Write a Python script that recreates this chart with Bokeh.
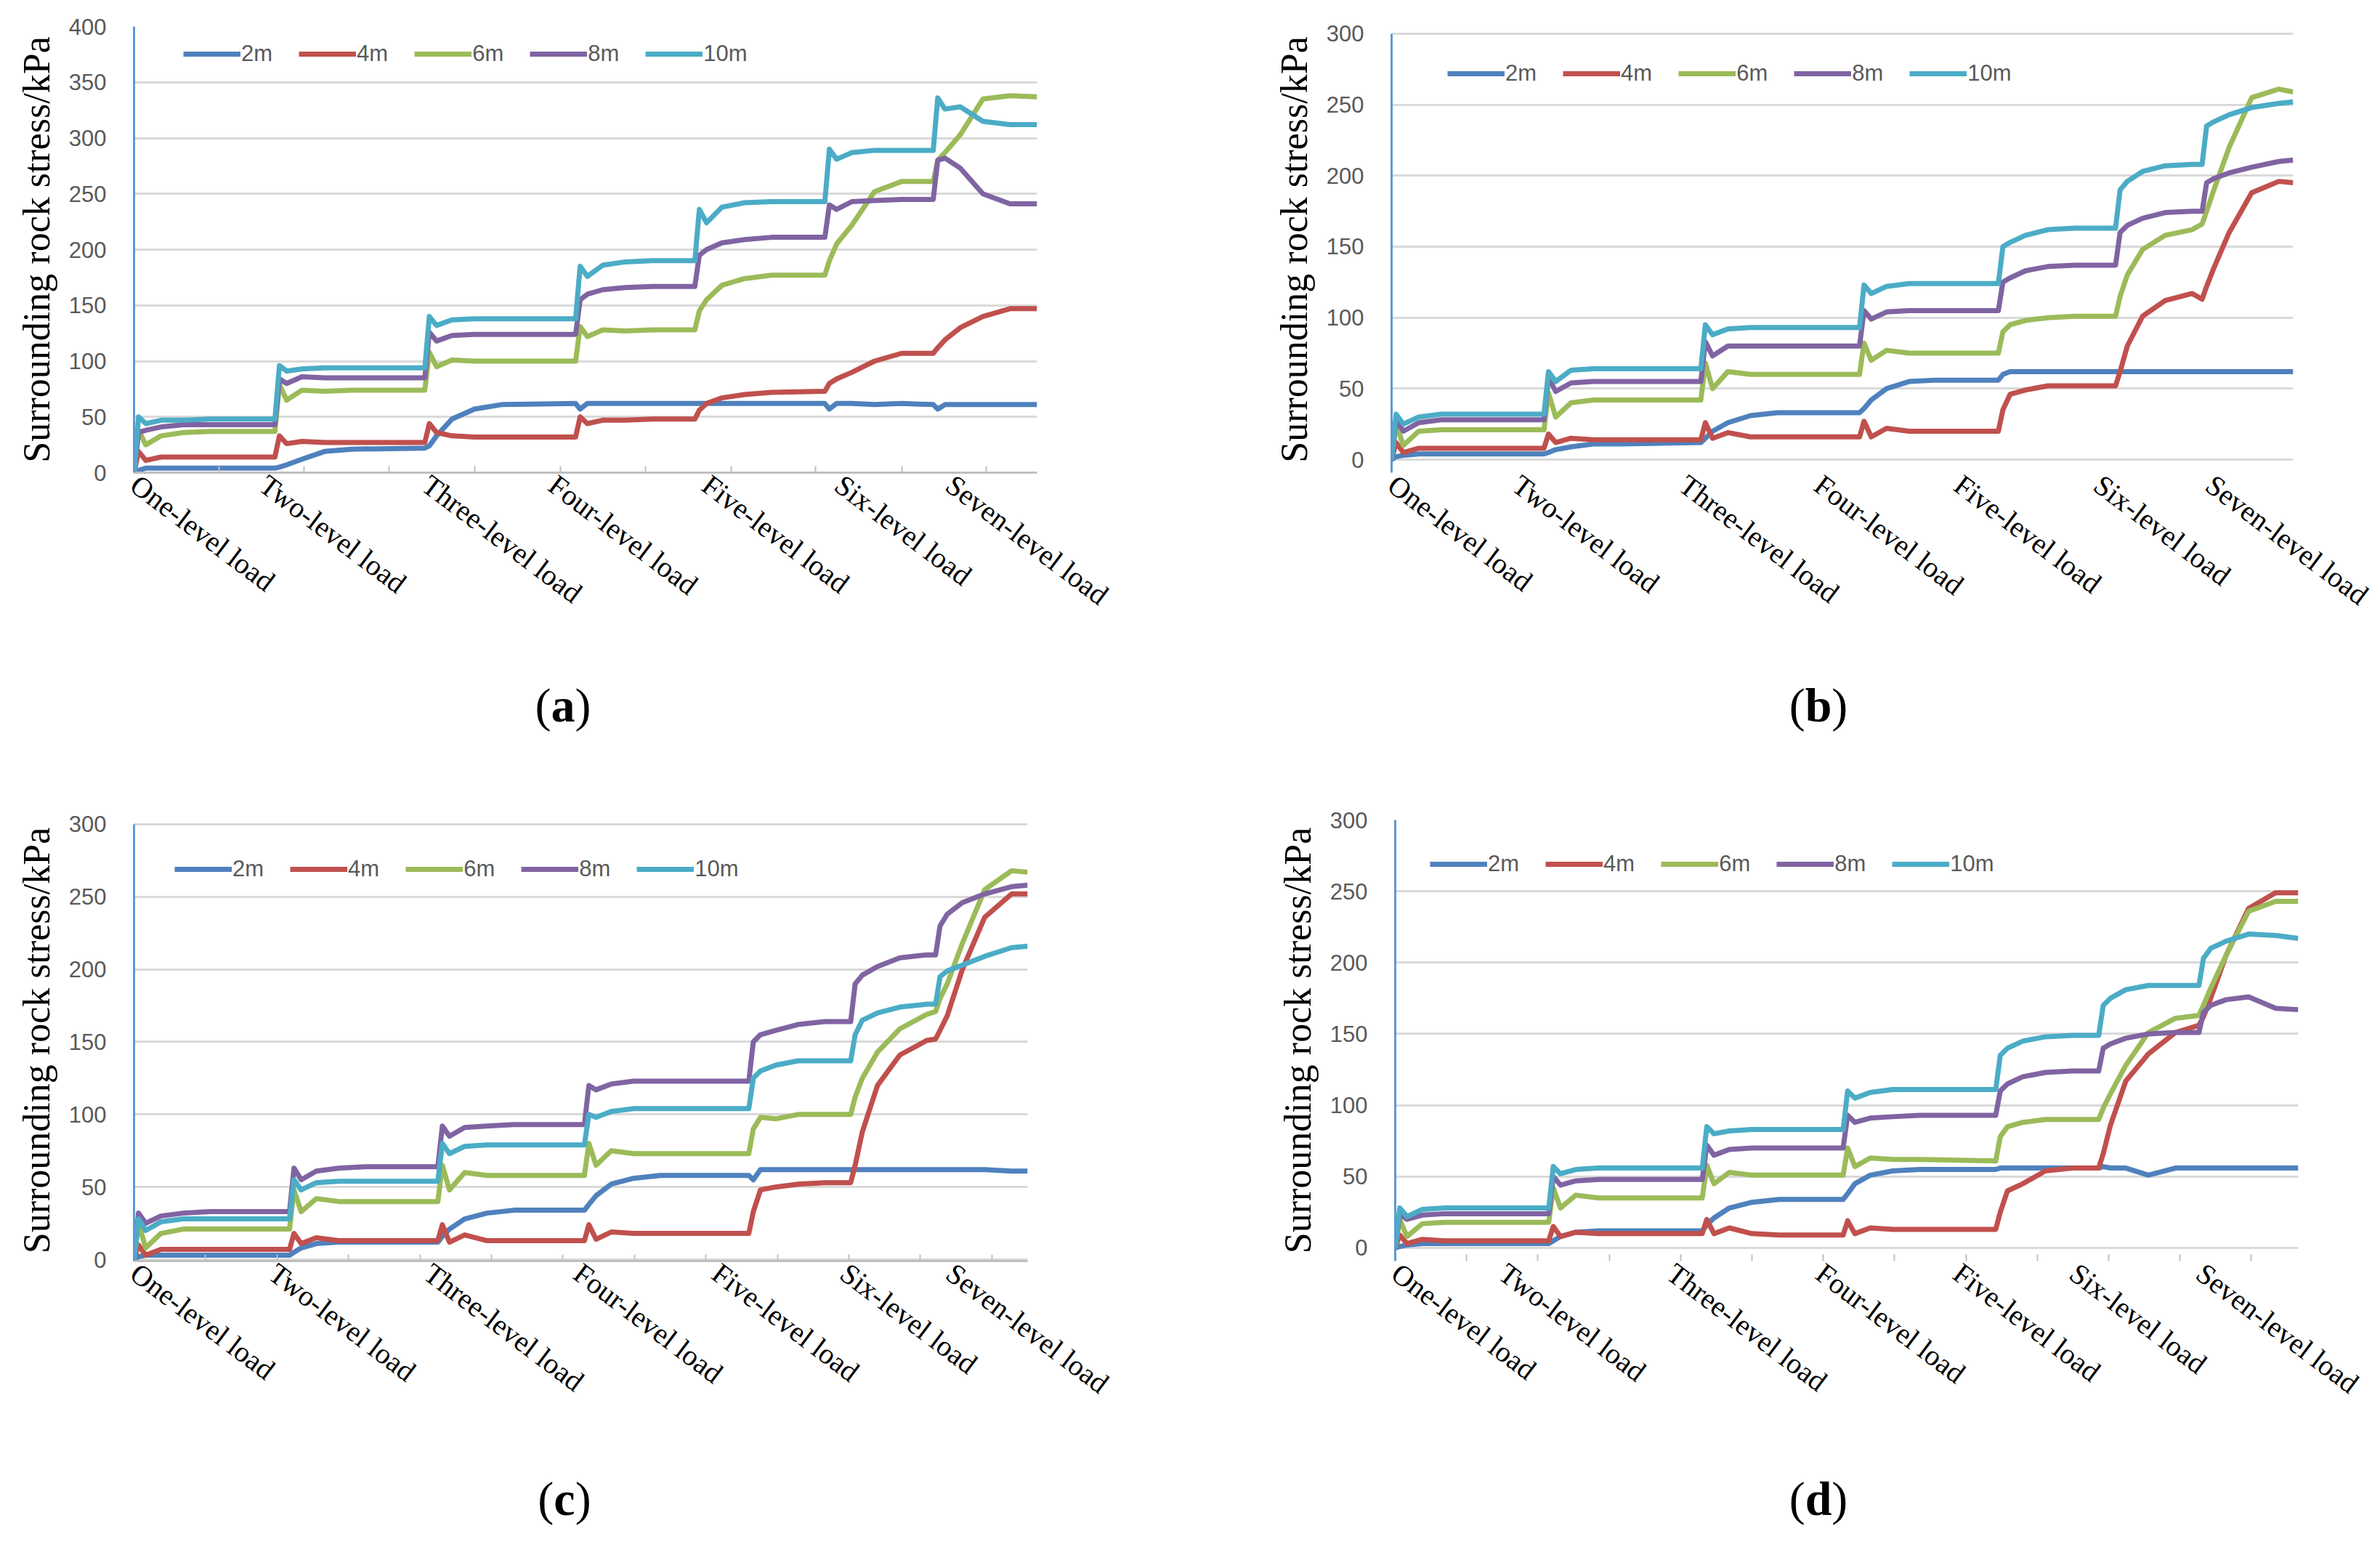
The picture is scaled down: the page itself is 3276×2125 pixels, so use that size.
import math
from bokeh.plotting import figure
from bokeh.models import Range1d, FixedTicker, SingleIntervalTicker, Legend, LegendItem, Div
from bokeh.layouts import row, column
from bokeh.embed import file_html
from bokeh.resources import INLINE

LOADS = ["One-level load", "Two-level load", "Three-level load", "Four-level load",
         "Five-level load", "Six-level load", "Seven-level load"]
DEPTHS = ["2m", "4m", "6m", "8m", "10m"]
COLORS = ["#4F81BD", "#C0504D", "#9BBB59", "#8064A2", "#4BACC6"]

# ---------------- panel (a) ----------------
X_A = [0, 0.5, 1.3, 3, 5.5, 8.5,
       15.6, 16.1, 16.9, 18.6, 21.1, 24.1,
       32.2, 32.7, 33.5, 35.2, 37.7, 40.7,
       48.9, 49.4, 50.2, 51.9, 54.4, 57.4,
       62.1, 62.6, 63.4, 65.1, 67.6, 70.6,
       76.5, 77.0, 77.8, 79.5, 82.0, 85.0,
       88.5, 89.0, 89.8, 91.5, 94.0, 97.0,
       100]
A_2m = [0, 2, 4, 4, 4, 4,
        4, 5, 7, 12, 19, 21,
        22, 24, 33, 48, 57, 61,
        62, 57, 62, 62, 62, 62,
        62, 62, 62, 62, 62, 62,
        62, 57, 62, 62, 61, 62,
        61, 57, 61, 61, 61, 61,
        61]
A_4m = [0, 19, 11, 14, 14, 14,
        14, 33, 26, 28, 27, 27,
        27, 44, 36, 33, 32, 32,
        32, 50, 44, 47, 47, 48,
        48, 56, 62, 67, 70, 72,
        73, 80, 84, 90, 100, 107,
        107, 112, 119, 130, 140, 147,
        147]
A_6m = [0, 38, 25, 33, 36, 37,
        37, 79, 65, 74, 73, 74,
        74, 108, 95, 101, 100, 100,
        100, 131, 122, 128, 127, 128,
        128, 145, 155, 168, 174, 177,
        177, 190, 205, 222, 252, 261,
        261, 280, 287, 303, 335, 338,
        337]
A_8m = [0, 36, 38, 41, 43, 43,
        43, 84, 80, 86, 85, 85,
        85, 126, 118, 123, 124, 124,
        124, 155, 160, 164, 166, 167,
        167, 195, 200, 206, 209, 211,
        211, 240, 236, 243, 244, 245,
        245, 280, 282, 273, 250, 241,
        241]
A_10m = [0, 50, 44, 47, 47, 48,
         48, 96, 91, 93, 94, 94,
         94, 140, 132, 137, 138, 138,
         138, 185, 176, 186, 189, 190,
         190, 236, 224, 238, 242, 243,
         243, 290, 281, 287, 289, 289,
         289, 336, 326, 328, 315, 312,
         312]
LBL_A = [0, 14.3, 32.3, 46.3, 63.3, 78.0, 90.3]

# ---------------- panel (b) ----------------
X_B = [0, 0.5, 1.3, 3, 5.5, 8.5,
       16.9, 17.4, 18.2, 19.9, 22.4, 25.4,
       34.3, 34.8, 35.6, 37.3, 39.8, 42.8,
       51.9, 52.4, 53.2, 54.9, 57.4, 60.4,
       67.3, 67.8, 68.6, 70.3, 72.8, 75.8,
       80.3, 80.8, 81.6, 83.3, 85.8, 88.8,
       89.9, 90.4, 91.2, 92.9, 95.4, 98.4,
       100]
B_2m = [0, 2, 3, 4, 4, 4,
        4, 5, 7, 9, 11, 11,
        12, 15, 20, 26, 31, 33,
        33, 36, 42, 50, 55, 56,
        56, 60, 62, 62, 62, 62,
        62, 62, 62, 62, 62, 62,
        62, 62, 62, 62, 62, 62,
        62]
B_4m = [0, 12, 5, 8, 8, 8,
        8, 18, 12, 15, 14, 14,
        14, 26, 15, 19, 16, 16,
        16, 27, 16, 22, 20, 20,
        20, 35, 46, 49, 52, 52,
        52, 62, 80, 101, 112, 117,
        113, 122, 135, 160, 188, 196,
        195]
B_6m = [0, 25, 10, 20, 21, 21,
        21, 47, 30, 40, 42, 42,
        42, 68, 50, 62, 60, 60,
        60, 82, 70, 77, 75, 75,
        75, 90, 95, 98, 100, 101,
        101, 115, 130, 148, 158, 162,
        166, 175, 190, 220, 255, 261,
        259]
B_8m = [0, 28, 20, 26, 28, 28,
        28, 58, 48, 54, 55, 55,
        55, 83, 73, 80, 80, 80,
        80, 105, 99, 104, 105, 105,
        105, 125, 128, 133, 136, 137,
        137, 160, 165, 170, 174, 175,
        175, 195, 198, 202, 206, 210,
        211]
B_10m = [0, 32, 25, 30, 32, 32,
         32, 62, 55, 63, 64, 64,
         64, 95, 88, 92, 93, 93,
         93, 123, 117, 122, 124, 124,
         124, 150, 153, 158, 162, 163,
         163, 190, 196, 203, 207, 208,
         208, 235, 238, 243, 248, 251,
         252]
LBL_B = [0, 13.8, 32.3, 47.3, 62.8, 78.3, 90.7]

# ---------------- panel (c) ----------------
X_C = [0, 0.5, 1.3, 3, 5.5, 8.5,
       17.4, 17.9, 18.7, 20.4, 22.9, 25.9,
       34.0, 34.5, 35.3, 37.0, 39.5, 42.5,
       50.4, 50.9, 51.7, 53.4, 55.9, 58.9,
       68.8, 69.3, 70.1, 71.8, 74.3, 77.3,
       80.2, 80.7, 81.5, 83.2, 85.7, 88.7,
       89.7, 90.2, 91.0, 92.7, 95.2, 98.2,
       100]
C_2m = [0, 2, 3, 3, 3, 3,
        3, 5, 8, 11, 12, 12,
        12, 16, 21, 28, 32, 34,
        34, 38, 44, 52, 56, 58,
        58, 55, 62, 62, 62, 62,
        62, 62, 62, 62, 62, 62,
        62, 62, 62, 62, 62, 61,
        61]
C_4m = [0, 10, 3, 7, 7, 7,
        7, 18, 11, 15, 13, 13,
        13, 24, 12, 17, 13, 13,
        13, 24, 14, 19, 18, 18,
        18, 33, 48, 50, 52, 53,
        53, 65, 88, 120, 141, 151,
        152, 158, 168, 200, 236, 252,
        252]
C_6m = [0, 25, 8, 18, 21, 21,
        21, 48, 33, 42, 40, 40,
        40, 65, 48, 60, 58, 58,
        58, 80, 65, 75, 73, 73,
        73, 90, 98, 97, 100, 100,
        100, 112, 125, 143, 159, 169,
        171, 180, 190, 218, 255, 268,
        267]
C_8m = [0, 32, 25, 30, 32, 33,
        33, 63, 55, 61, 63, 64,
        64, 92, 85, 91, 92, 93,
        93, 120, 117, 121, 123, 123,
        123, 150, 155, 158, 162, 164,
        164, 190, 196, 202, 208, 210,
        210, 230, 238, 246, 252, 257,
        258]
C_10m = [0, 28, 20, 26, 28, 28,
         28, 55, 48, 53, 54, 54,
         54, 80, 73, 78, 79, 79,
         79, 100, 98, 102, 104, 104,
         104, 125, 130, 134, 137, 137,
         137, 155, 165, 170, 174, 176,
         176, 195, 199, 203, 209, 215,
         216]
LBL_C = [0, 15.5, 32.85, 49.6, 65.1, 79.45, 91.3]

# ---------------- panel (d) ----------------
X_D = [0, 0.5, 1.3, 3, 5.5, 8.5,
       17.0, 17.5, 18.3, 20.0, 22.5, 25.5,
       34.0, 34.5, 35.3, 37.0, 39.5, 42.5,
       49.6, 50.1, 50.9, 52.6, 55.1, 58.1,
       66.5, 67.0, 67.8, 69.5, 72.0, 75.0,
       77.9, 78.4, 79.2, 80.9, 83.4, 86.4,
       89.0, 89.5, 90.3, 92.0, 94.5, 97.5,
       100]
D_2m = [0, 1, 2, 3, 3, 3,
        3, 5, 8, 11, 12, 12,
        12, 16, 21, 28, 32, 34,
        34, 38, 45, 51, 54, 55,
        55, 56, 56, 56, 56, 56,
        56, 57, 56, 56, 51, 56,
        56, 56, 56, 56, 56, 56,
        56]
D_4m = [0, 9, 3, 6, 5, 5,
        5, 15, 8, 11, 10, 10,
        10, 20, 10, 14, 10, 9,
        9, 19, 10, 14, 13, 13,
        13, 25, 40, 45, 54, 56,
        56, 66, 86, 117, 136, 151,
        156, 162, 175, 205, 238, 249,
        249]
D_6m = [0, 20, 8, 17, 18, 18,
        18, 42, 28, 37, 35, 35,
        35, 58, 45, 53, 51, 51,
        51, 70, 57, 63, 62, 62,
        61, 78, 85, 88, 90, 90,
        90, 98, 108, 128, 151, 161,
        163, 170, 182, 205, 236, 243,
        243]
D_8m = [0, 24, 20, 23, 24, 24,
        24, 50, 44, 47, 48, 48,
        48, 72, 65, 69, 70, 70,
        70, 93, 88, 91, 92, 93,
        93, 110, 115, 120, 123, 124,
        124, 140, 143, 147, 150, 151,
        151, 165, 170, 174, 176, 168,
        167]
D_10m = [0, 28, 22, 27, 28, 28,
         28, 57, 52, 55, 56, 56,
         56, 85, 80, 82, 83, 83,
         83, 110, 105, 109, 111, 111,
         111, 135, 140, 145, 148, 149,
         149, 170, 175, 181, 184, 184,
         184, 203, 210, 215, 220, 219,
         217]
LBL_D = [0, 11.9, 30.5, 47.0, 62.2, 75.1, 89.1]


def make_panel(xs, series, yr, ybounds, lbl_pos, minor, show_xline,
               W, H, bl, br, bt, bb, leg_xy):
    p = figure(width=W, height=H, x_range=Range1d(0, 100), y_range=Range1d(*yr),
               output_backend="svg", toolbar_location=None,
               min_border_left=bl, min_border_right=br, min_border_top=bt, min_border_bottom=bb)
    p.outline_line_color = None
    p.background_fill_color = "white"
    p.border_fill_color = "white"
    p.xgrid.visible = False

    yt = SingleIntervalTicker(interval=50, num_minor_ticks=0)
    p.yaxis.ticker = yt
    p.ygrid.ticker = yt
    p.ygrid.grid_line_color = "#D9D9D9"
    p.ygrid.grid_line_width = 3

    ax = p.yaxis[0]
    if ybounds is not None:
        ax.bounds = ybounds
    ax.axis_line_color = "#5B9BD5"
    ax.axis_line_width = 3
    ax.major_tick_line_color = None
    ax.minor_tick_line_color = None
    ax.major_label_text_font = "Liberation Sans"
    ax.major_label_text_font_size = "31px"
    ax.major_label_text_color = "#595959"
    ax.major_label_standoff = 32
    ax.axis_label = "Surrounding rock stress/kPa"
    ax.axis_label_text_font = "Liberation Serif"
    ax.axis_label_text_font_size = "52px"
    ax.axis_label_text_font_style = "normal"
    ax.axis_label_text_color = "#000000"
    ax.axis_label_standoff = 13

    bx = p.xaxis[0]
    bx.ticker = FixedTicker(ticks=lbl_pos, minor_ticks=minor)
    bx.major_label_overrides = {float(v): n for v, n in zip(lbl_pos, LOADS)}
    bx.major_label_orientation = -math.radians(37)
    bx.major_label_text_font = "Liberation Serif"
    bx.major_label_text_font_size = "40px"
    bx.major_label_text_color = "#000000"
    bx.major_label_standoff = 6
    bx.major_tick_line_color = None
    bx.minor_tick_line_color = "#BFBFBF"
    bx.minor_tick_line_width = 2
    bx.minor_tick_in = 9
    bx.minor_tick_out = 0
    bx.axis_line_color = "#BFBFBF" if show_xline else None
    bx.axis_line_width = 3

    items = []
    for name, ys, col in zip(DEPTHS, series, COLORS):
        r = p.line(xs, ys, line_color=col, line_width=7, line_join="round")
        items.append(LegendItem(label=name, renderers=[r]))

    leg = Legend(items=items, orientation="horizontal", location=leg_xy,
                 glyph_width=79, glyph_height=36, label_height=36, label_standoff=1,
                 spacing=36, padding=0, margin=0, border_line_alpha=0,
                 background_fill_alpha=0, label_text_font="Liberation Sans",
                 label_text_font_size="31px", label_text_color="#595959")
    p.add_layout(leg, "center")
    return p


def caption(letter, W, H, left, top):
    html = ('<div style="position:relative; left:%dpx; top:%dpx; width:200px; '
            'text-align:center; font-family:\'Liberation Serif\'; font-size:66px; '
            'line-height:80px; color:#000000;">(<b>%s</b>)</div>' % (left, top, letter))
    return Div(text=html, width=W, height=H, margin=0)


MT_A = [9.4, 18.8, 28.2, 37.7, 47.2, 56.6, 66.1, 75.5, 85, 94.4]
MT_B = []
MT_C = [8, 16, 24, 32, 40, 48, 56, 64, 72, 80, 88, 96]
MT_D = [7.9, 15.8, 23.7, 31.6, 39.5, 47.4, 55.3, 63.2, 71.1, 79, 86.9, 94.8]

# row 1: canvas 0..900, common frame 36..650 ; row 2: canvas 1040..1990, frame 1128..1735
pa = make_panel(X_A, [A_2m, A_4m, A_6m, A_8m, A_10m], (0, 400), None, LBL_A, MT_A, True,
                1636, 900, 184, 209, 36, 250, (68, 558))
pb = make_panel(X_B, [B_2m, B_4m, B_6m, B_8m, B_10m], (-9.2, 305.1), (-9.2, 300), LBL_B, MT_B, False,
                1636, 900, 279, 116, 36, 250, (77, 531))
pc = make_panel(X_C, [C_2m, C_4m, C_6m, C_8m, C_10m], (-1.0, 303.0), (-1.0, 300), LBL_C, MT_C, True,
                1636, 950, 184, 222, 88, 255, (56, 521))
pd = make_panel(X_D, [D_2m, D_4m, D_6m, D_8m, D_10m], (-9.17, 300), None, LBL_D, MT_D, False,
                1636, 950, 284, 109, 88, 255, (48, 528))

ca = caption("a", 1636, 140, 675, 31)
cb = caption("b", 1636, 140, 767, 31)
cc = caption("c", 1636, 130, 677, 33)
cd = caption("d", 1636, 130, 767, 33)

layout = column(row(pa, pb), row(ca, cb), row(pc, pd), row(cc, cd))
open("out.html", "w").write(file_html(layout, INLINE))
